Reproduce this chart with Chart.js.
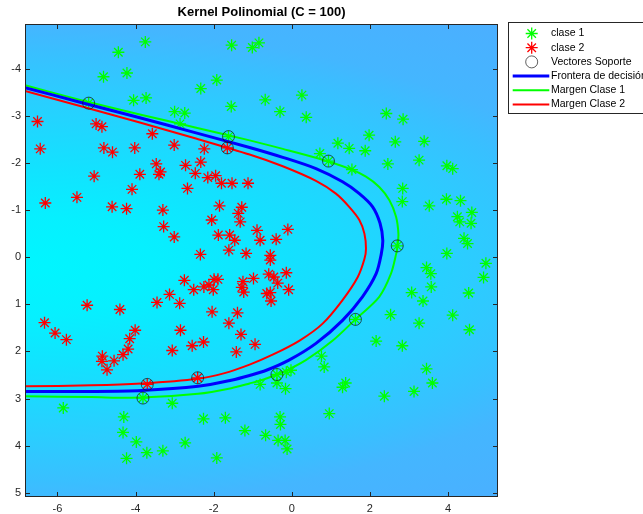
<!DOCTYPE html>
<html>
<head>
<meta charset="utf-8">
<script src="https://cdn.jsdelivr.net/npm/chart.js@4/dist/chart.umd.min.js"></script>
<style>
  html, body { margin: 0; padding: 0; background: #ffffff; }
  canvas { display: block; }
</style>
</head>
<body>
<canvas id="grafico" width="643" height="514"></canvas>
<script>
// ---- datos ----
const titulo = 'Kernel Polinomial (C = 100)';
const xTicks = [-6, -4, -2, 0, 2, 4];
const yTicks = [-4, -3, -2, -1, 0, 1, 2, 3, 4, 5];
const xLimites = [-6.83, 5.28];
const yLimites = [-4.95, 5.09];

// clase 1 (verde)
const clase1 = [
  [-3.75,-4.57],[-4.44,-4.35],[-4.82,-3.83],[-4.22,-3.91],[-4.05,-3.33],[-3.73,-3.38],
  [-3.00,-3.09],[-2.74,-3.06],[-2.86,-2.83],[-2.33,-3.58],[-1.92,-3.76],[-1.54,-4.50],
  [-1.55,-3.20],[-1.01,-4.45],[-0.84,-4.55],[-5.20,-3.27],[-1.62,-2.56],
  [-0.68,-3.34],[0.26,-3.44],[-0.30,-3.09],[0.37,-2.97],[2.42,-3.05],[2.85,-2.93],
  [1.98,-2.59],[1.18,-2.42],[1.47,-2.31],[1.88,-2.26],[2.65,-2.45],[3.39,-2.46],
  [3.26,-2.06],[2.46,-1.98],[0.72,-2.20],[0.94,-2.04],[1.54,-1.86],[3.97,-1.94],
  [4.12,-1.88],[2.84,-1.46],[2.83,-1.18],[3.52,-1.09],[3.96,-1.23],[4.32,-1.20],
  [4.61,-0.95],[4.24,-0.86],[4.30,-0.75],[4.59,-0.72],[4.41,-0.40],[4.50,-0.29],
  [2.70,-0.24],[3.97,-0.08],[4.97,0.13],
  [3.45,0.22],[3.56,0.35],[3.57,0.63],[4.91,0.43],[3.07,0.75],[3.36,0.93],[4.53,0.76],
  [2.53,1.22],[3.26,1.40],[4.12,1.23],[4.55,1.54],[2.16,1.78],[2.83,1.88],[0.76,2.10],
  [0.83,2.33],[-0.02,2.40],[-0.14,2.44],[3.45,2.37],[3.60,2.67],[-0.81,2.70],[-0.38,2.67],
  [-0.16,2.79],[1.38,2.67],[1.30,2.76],[2.37,2.95],[3.13,2.85],[0.96,3.32],[-0.30,3.39],
  [-0.29,3.55],[-0.67,3.78],[-0.35,3.89],[-0.17,3.89],[-0.12,4.07],[1.63,1.32],[-0.38,2.49],
  [-3.81,2.99],[-5.85,3.20],[-3.06,3.10],[-4.30,3.39],[-4.32,3.72],[-3.98,3.92],
  [-3.71,4.15],[-4.23,4.27],[-3.30,4.11],[-2.73,3.94],[-2.26,3.43],[-1.70,3.41],
  [-1.92,4.26],[-1.20,3.68]
];

// clase 2 (rojo)
const clase2 = [
  [-6.51,-2.88],[-6.44,-2.30],[-6.31,-1.15],[-5.50,-1.27],[-5.06,-1.72],[-5.01,-2.83],
  [-4.86,-2.77],[-4.81,-2.32],[-4.59,-2.23],[-4.02,-2.32],[-4.60,-1.07],[-4.23,-1.03],
  [-4.09,-1.44],[-3.89,-1.76],[-3.57,-2.62],[-3.47,-1.98],[-3.36,-1.81],[-3.40,-1.76],
  [-3.30,-1.00],[-3.28,-0.65],[-3.01,-0.43],[-3.01,-2.38],[-2.72,-1.95],[-2.67,-1.46],
  [-2.47,-1.78],[-2.33,-2.02],[-2.24,-2.30],[-2.15,-1.69],[-1.95,-1.73],[-1.80,-1.57],
  [-1.53,-1.57],[-1.12,-1.57],[-1.85,-1.09],[-2.05,-0.79],[-1.88,-0.47],[-1.59,-0.47],
  [-1.46,-0.36],[-1.61,-0.15],[-1.37,-0.93],[-1.28,-1.06],[-1.32,-0.75],[-1.17,-0.08],
  [-2.34,-0.06],[-1.65,-2.32],
  [-0.89,-0.57],[-0.81,-0.36],[-0.40,-0.38],[-0.10,-0.59],[-0.55,-0.04],
  [-5.24,1.02],[-4.40,1.11],[-6.33,1.39],[-6.06,1.61],[-5.77,1.75],[-4.85,2.10],
  [-4.86,2.21],[-4.73,2.39],[-4.55,2.20],[-4.32,2.07],[-4.19,1.95],[-4.15,1.73],
  [-4.01,1.55],[-3.45,0.96],[-3.13,0.79],[-2.87,0.98],[-2.75,0.49],[-2.51,0.69],
  [-2.25,0.63],[-2.12,0.59],[-1.99,0.47],[-1.89,0.47],[-2.01,0.69],[-2.04,1.16],
  [-2.85,1.55],[-2.55,1.88],[-2.26,1.80],[-3.06,1.98],[-1.61,1.40],[-1.39,1.18],
  [-1.30,1.64],[-1.42,2.01],[-1.25,0.52],[-1.28,0.64],[-1.23,0.74],[-3.70,2.70],
  [-2.41,2.56],
  [-0.55,0.06],[-0.98,0.45],[-0.59,0.36],[-0.46,0.42],[-0.36,0.55],[-0.14,0.33],
  [-0.08,0.69],[-0.64,0.77],[-0.55,0.75],[-0.53,0.93],[-0.94,1.85]
];

const vectoresSoporte = [
  [-5.20,-3.27],[-1.62,-2.56],[-1.65,-2.32],[0.94,-2.04],[2.70,-0.24],
  [1.63,1.32],[-0.38,2.49],[-2.41,2.56],[-3.70,2.70],[-3.81,2.99]
];

// curvas de nivel del clasificador
const frontera = [
  [-6.83,-3.60],[-5.42,-3.29],[-3.89,-2.96],[-2.50,-2.65],[-1.08,-2.33],[-0.23,-2.12],
  [0.62,-1.88],[1.30,-1.60],[1.73,-1.35],[2.07,-1.07],[2.26,-0.72],[2.33,-0.36],
  [2.29,-0.06],[2.16,0.35],[1.81,0.84],[1.30,1.34],[0.62,1.83],[-0.06,2.18],
  [-0.65,2.40],[-1.08,2.51],[-1.55,2.61],[-2.40,2.74],[-3.85,2.83],[-5.13,2.85],[-6.83,2.85]
];
const margen1 = [
  [-6.83,-3.65],[-5.42,-3.34],[-3.89,-3.03],[-2.50,-2.76],[-1.08,-2.48],[-0.23,-2.30],
  [0.62,-2.11],[1.47,-1.88],[1.90,-1.71],[2.24,-1.49],[2.50,-1.21],[2.67,-0.86],
  [2.73,-0.50],[2.71,-0.25],[2.67,-0.06],[2.54,0.35],[2.24,0.84],[1.63,1.32],
  [1.05,1.77],[0.37,2.18],[-0.23,2.44],[-0.74,2.60],[-1.08,2.68],[-1.55,2.78],
  [-2.40,2.90],[-3.85,2.98],[-5.13,2.97],[-6.83,2.95]
];
const margen2 = [
  [-6.83,-3.53],[-5.42,-3.21],[-3.89,-2.86],[-2.50,-2.53],[-1.08,-2.18],[-0.23,-1.93],
  [0.62,-1.62],[1.13,-1.35],[1.47,-1.07],[1.73,-0.79],[1.86,-0.50],[1.90,-0.18],
  [1.86,0.04],[1.69,0.42],[1.30,0.91],[0.79,1.41],[0.20,1.77],[-0.49,2.07],
  [-1.08,2.28],[-1.72,2.46],[-2.40,2.58],[-3.85,2.68],[-5.13,2.72],[-6.83,2.74]
];

// ---- estilo ----
const FUENTE = "'Liberation Sans', Arial, Helvetica, sans-serif";
const TINTA = '#262626';
const aPuntos = a => a.map(([x, y]) => ({ x, y }));

// fondo: campo de decision como degradado
const fondo = {
  id: 'fondo',
  beforeDatasetsDraw(chart) {
    const { ctx, chartArea: a, scales } = chart;
    const cx = scales.x.getPixelForValue(-6.8);
    const cy = scales.y.getPixelForValue(0.2);
    const rx = 640, ry = 250, ext = 1.25;
    ctx.save();
    ctx.beginPath();
    ctx.rect(a.left, a.top, a.right - a.left, a.bottom - a.top);
    ctx.clip();
    ctx.translate(cx, cy);
    ctx.scale(1, ry / rx);
    const g = ctx.createRadialGradient(0, 0, 0, 0, 0, rx * ext);
    [[0, '#00f6ff'], [0.2, '#06f0ff'], [0.4, '#12e2ff'], [0.56, '#20d6ff'],
     [0.7, '#2cccff'], [0.85, '#38c0ff'], [0.96, '#44b6ff'], [1.25, '#4caeff']]
      .forEach(([r, c]) => g.addColorStop(r / ext, c));
    ctx.fillStyle = g;
    ctx.fillRect(-200, -3000, 1200, 6000);
    ctx.restore();
  }
};

function dibujarMarcador(ctx, estilo, x, y, r) {
  ctx.beginPath();
  if (estilo === 'star') {
    const d = r * Math.SQRT1_2;
    ctx.moveTo(x - r, y); ctx.lineTo(x + r, y);
    ctx.moveTo(x, y - r); ctx.lineTo(x, y + r);
    ctx.moveTo(x - d, y - d); ctx.lineTo(x + d, y + d);
    ctx.moveTo(x - d, y + d); ctx.lineTo(x + d, y - d);
  } else {
    ctx.arc(x, y, r, 0, Math.PI * 2);
  }
  ctx.stroke();
}

// marco, marcas interiores, titulo y leyenda
const marco = {
  id: 'marco',
  afterDatasetsDraw(chart) {
    const { ctx, chartArea: a, scales } = chart;
    ctx.save();
    ctx.strokeStyle = TINTA;
    ctx.lineWidth = 1;
    ctx.beginPath();
    xTicks.forEach(v => {
      const p = Math.round(scales.x.getPixelForValue(v)) + 0.5;
      ctx.moveTo(p, a.bottom); ctx.lineTo(p, a.bottom - 5);
      ctx.moveTo(p, a.top); ctx.lineTo(p, a.top + 5);
    });
    yTicks.forEach(v => {
      const p = Math.round(scales.y.getPixelForValue(v)) + 0.5;
      ctx.moveTo(a.left, p); ctx.lineTo(a.left + 5, p);
      ctx.moveTo(a.right, p); ctx.lineTo(a.right - 5, p);
    });
    ctx.stroke();
    ctx.strokeRect(Math.round(a.left) + 0.5, Math.round(a.top) + 0.5,
                   Math.round(a.right - a.left) - 1, Math.round(a.bottom - a.top) - 1);

    ctx.fillStyle = '#000';
    ctx.font = `bold 13px ${FUENTE}`;
    ctx.textAlign = 'center';
    ctx.textBaseline = 'middle';
    ctx.fillText(titulo, (a.left + a.right) / 2, 12);
    ctx.restore();
  },
  afterDraw(chart) {
    const { ctx } = chart;
    const caja = { x: 508, y: 22, w: 200, h: 91 };
    const fila0 = 33.5, paso = 14.2, xs = 531.7, l0 = 512.7, l1 = 549.3, xt = 551;
    ctx.save();
    ctx.fillStyle = '#fff';
    ctx.fillRect(caja.x, caja.y, caja.w, caja.h);
    ctx.strokeStyle = TINTA;
    ctx.lineWidth = 1;
    ctx.strokeRect(caja.x + 0.5, caja.y + 0.5, caja.w, caja.h);
    ctx.font = `10.5px ${FUENTE}`;
    ctx.textAlign = 'left';
    ctx.textBaseline = 'middle';
    chart.data.datasets.forEach((ds, i) => {
      const yy = fila0 + i * paso;
      ctx.strokeStyle = ds.borderColor;
      if (ds.showLine) {
        ctx.lineWidth = ds.borderWidth;
        ctx.beginPath();
        ctx.moveTo(l0, yy); ctx.lineTo(l1, yy);
        ctx.stroke();
      } else {
        ctx.lineWidth = ds.pointBorderWidth;
        dibujarMarcador(ctx, ds.pointStyle, xs, yy, ds.pointRadius);
      }
      ctx.fillStyle = '#000';
      ctx.fillText(ds.label, xt, yy);
    });
    ctx.restore();
  }
};

const curva = (label, datos, color, ancho, orden) => ({
  label, data: aPuntos(datos), showLine: true, fill: false,
  borderColor: color, borderWidth: ancho, pointRadius: 0, pointHoverRadius: 0,
  tension: 0.3, order: orden
});

new Chart(document.getElementById('grafico'), {
  type: 'scatter',
  data: {
    datasets: [
      { label: 'clase 1', data: aPuntos(clase1), pointStyle: 'star', pointRadius: 6,
        borderColor: '#00ff00', pointBorderWidth: 1.3, backgroundColor: '#00ff00', order: 6 },
      { label: 'clase 2', data: aPuntos(clase2), pointStyle: 'star', pointRadius: 6,
        borderColor: '#ff0000', pointBorderWidth: 1.3, backgroundColor: '#ff0000', order: 5 },
      { label: 'Vectores Soporte', data: aPuntos(vectoresSoporte), pointStyle: 'circle',
        pointRadius: 6, borderColor: 'rgba(20,20,20,0.85)', backgroundColor: 'rgba(0,0,0,0)',
        pointBorderWidth: 0.8, order: 0 },
      curva('Frontera de decisión', frontera, '#0000ff', 3, 1),
      curva('Margen Clase 1', margen1, '#00ff00', 2, 3),
      curva('Margen Clase 2', margen2, '#ff0000', 2, 2)
    ]
  },
  options: {
    responsive: false,
    devicePixelRatio: 1,
    animation: false,
    events: [],
    layout: { padding: { top: 24, right: 145, left: 0, bottom: 0 } },
    plugins: { legend: { display: false }, tooltip: { enabled: false }, title: { display: false } },
    scales: {
      x: {
        type: 'linear', min: xLimites[0], max: xLimites[1],
        afterBuildTicks(s) { s.ticks = xTicks.map(v => ({ value: v })); },
        afterFit(s) { s.height = 17; },
        grid: { display: false, drawTicks: false },
        border: { display: false },
        ticks: { font: { family: FUENTE, size: 11 }, color: TINTA, padding: 5,
                 maxRotation: 0, autoSkip: false }
      },
      y: {
        type: 'linear', reverse: true, min: yLimites[0], max: yLimites[1],
        afterBuildTicks(s) { s.ticks = yTicks.map(v => ({ value: v })); },
        afterFit(s) { s.width = 25; },
        grid: { display: false, drawTicks: false },
        border: { display: false },
        ticks: { font: { family: FUENTE, size: 11 }, color: TINTA, padding: 4, autoSkip: false }
      }
    }
  },
  plugins: [fondo, marco]
});
</script>
</body>
</html>
